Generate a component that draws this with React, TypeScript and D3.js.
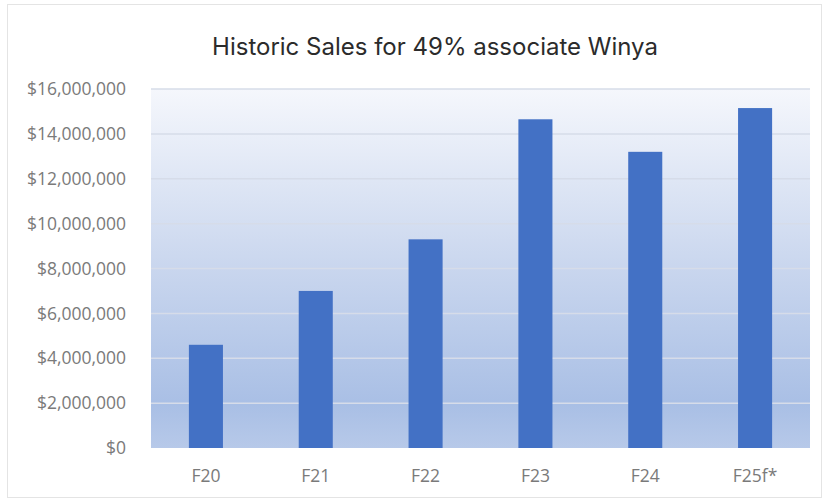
import React from 'react'
import * as d3 from 'd3'

const title = 'Historic Sales for 49% associate Winya'
const years = ['F20', 'F21', 'F22', 'F23', 'F24', 'F25f*']
const sales = [4600000, 7000000, 9300000, 14650000, 13200000, 15150000]
const yTicks = [0, 2000000, 4000000, 6000000, 8000000, 10000000, 12000000, 14000000, 16000000]

const W = 829
const H = 499
const margin = { top: 89, right: 19, bottom: 51, left: 151 }

const fmt = d3.format('$,')
const labelFont = "'Open Sans', 'Liberation Sans', sans-serif"

export default function App() {
    const x = d3
        .scaleBand()
        .domain(years)
        .range([margin.left, W - margin.right])
        .paddingInner(0.69)
        .paddingOuter(0.345)
    const y = d3
        .scaleLinear()
        .domain([0, 16000000])
        .range([H - margin.bottom, margin.top])

    const plotW = W - margin.left - margin.right
    const plotH = H - margin.top - margin.bottom

    return (
        <div style={{ position: 'absolute', left: 0, top: 0 }}>
            <svg width={W} height={H} style={{ display: 'block' }}>
                <defs>
                    <linearGradient id="bg" x1="0" y1="0" x2="0" y2="1">
                        <stop offset="0" stopColor="#f5f7fc" />
                        <stop offset="0.5" stopColor="#c9d6ee" />
                        <stop offset="0.88" stopColor="#a9bfe5" />
                        <stop offset="1" stopColor="#b7c9e9" />
                    </linearGradient>
                </defs>
                <rect x={0} y={0} width={W} height={H} fill="#ffffff" />
                <rect x={7.5} y={4.5} width={814} height={493} fill="#ffffff" stroke="#e4e4e4" />
                <text
                    x={435}
                    y={55}
                    textAnchor="middle"
                    fontFamily="Inter, 'Noto Sans', sans-serif"
                    fontSize={24}
                    fill="#2b2b2b"
                >
                    {title}
                </text>
                <rect x={margin.left} y={margin.top} width={plotW} height={plotH} fill="url(#bg)" />
                {yTicks.map(t => (
                    <g key={t}>
                        {t > 0 && (
                            <line
                                x1={margin.left}
                                x2={W - margin.right}
                                y1={y(t)}
                                y2={y(t)}
                                stroke="#d6dce9"
                                strokeWidth={1.5}
                            />
                        )}
                        <text
                            x={126}
                            y={y(t)}
                            dy="0.35em"
                            textAnchor="end"
                            fontFamily={labelFont}
                            fontSize={17.5}
                            fill="#7a7a7a"
                        >
                            {fmt(t)}
                        </text>
                    </g>
                ))}
                {years.map((d, i) => (
                    <rect
                        key={d}
                        x={x(d)}
                        y={y(sales[i])}
                        width={x.bandwidth()}
                        height={y(0) - y(sales[i])}
                        fill="#4371c5"
                    />
                ))}
                {years.map(d => (
                    <text
                        key={d}
                        x={x(d) + x.bandwidth() / 2}
                        y={476}
                        dy="0.35em"
                        textAnchor="middle"
                        fontFamily={labelFont}
                        fontSize={17.5}
                        fill="#7a7a7a"
                    >
                        {d}
                    </text>
                ))}
            </svg>
        </div>
    )
}
